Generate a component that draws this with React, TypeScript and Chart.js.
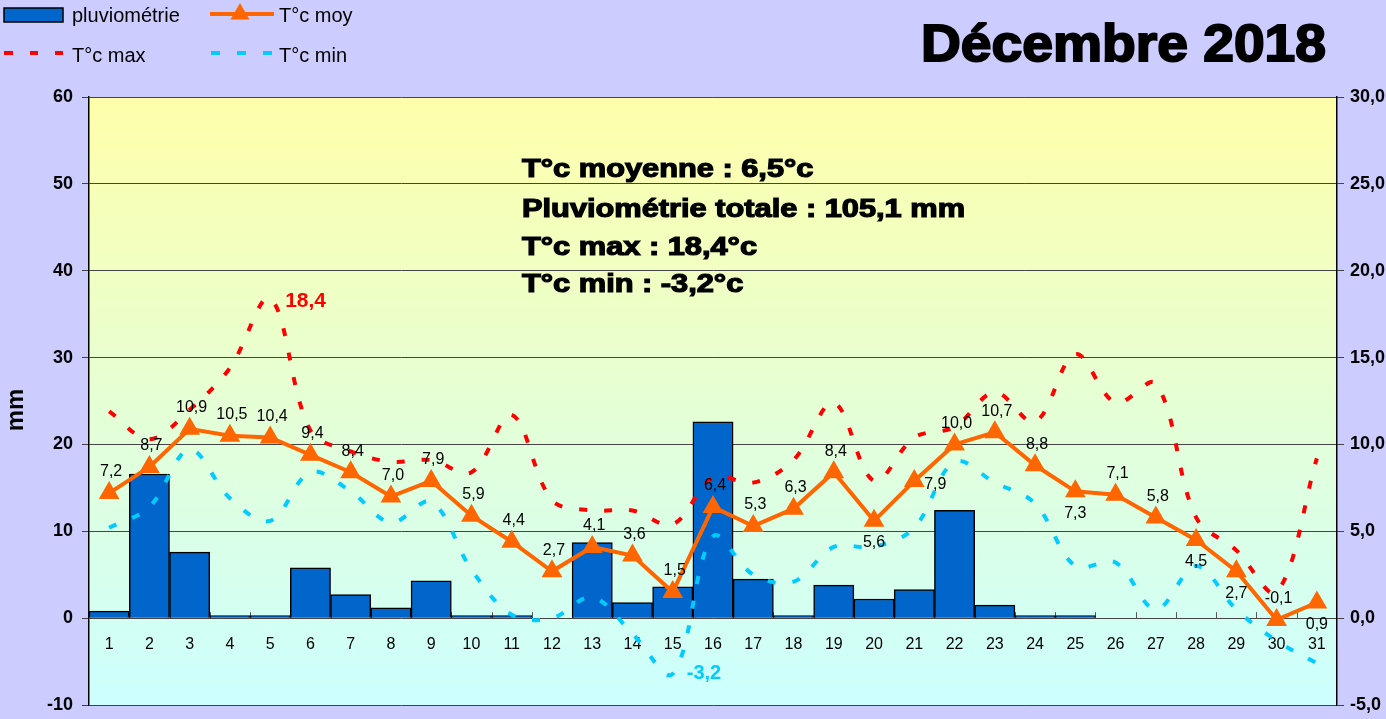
import React, { useEffect, useRef } from 'react';
import { Chart, registerables } from 'chart.js';

Chart.register(...registerables);

const days = ['1', '2', '3', '4', '5', '6', '7', '8', '9', '10', '11', '12', '13', '14', '15', '16', '17', '18', '19', '20', '21', '22', '23', '24', '25', '26', '27', '28', '29', '30', '31'];

const rainfall = [0.8, 16.6, 7.6, 0.3, 0.3, 5.8, 2.7, 1.2, 4.3, 0.3, 0.3, 0, 8.7, 1.8, 3.6, 22.6, 4.5, 0.3, 3.8, 2.2, 3.3, 12.4, 1.5, 0.3, 0.3, 0, 0, 0, 0, 0, 0];

const tMoy = [7.2, 8.7, 10.9, 10.5, 10.4, 9.4, 8.4, 7.0, 7.9, 5.9, 4.4, 2.7, 4.1, 3.6, 1.5, 6.4, 5.3, 6.3, 8.4, 5.6, 7.9, 10.0, 10.7, 8.8, 7.3, 7.1, 5.8, 4.5, 2.7, -0.1, 0.9];

const tMax = [11.9, 10.3, 12.0, 14.4, 18.4, 10.8, 9.6, 9.0, 9.1, 8.4, 11.7, 6.8, 6.2, 6.2, 5.4, 8.1, 7.8, 9.1, 12.4, 7.9, 10.4, 11.0, 13.0, 11.3, 15.2, 12.4, 13.5, 5.8, 3.9, 1.5, 9.2];

const tMin = [5.2, 6.4, 9.7, 6.9, 5.6, 8.4, 7.3, 5.5, 6.7, 2.8, 0.2, 0.0, 1.2, -0.9, -3.2, 4.7, 2.5, 2.1, 4.1, 4.1, 5.2, 9.0, 7.8, 6.6, 3.0, 3.2, 0.5, 3.0, 0.5, -1.3, -2.6];

// label placement of the mean temperature values: a = above, b = below, r = right
const tMoyLabelPlace = ['a', 'a', 'a', 'a', 'a', 'a', 'a', 'a', 'a', 'a', 'a', 'a', 'a', 'a', 'a', 'a', 'a', 'a', 'a', 'b', 'r', 'a', 'a', 'a', 'b', 'a', 'a', 'b', 'b', 'a', 'b'];

const mmTicks = { min: -10, max: 60, step: 10 };
const tempTicks = { min: -5, max: 30, step: 5 };

const chartTitle = 'Décembre 2018';
const statLines = [
  'T°c moyenne : 6,5°c',
  'Pluviométrie totale : 105,1 mm',
  'T°c max : 18,4°c',
  'T°c min : -3,2°c',
];
const legendNames = ['pluviométrie', 'T°c moy', 'T°c max', 'T°c min'];

const FONT = '"Liberation Sans", Arial, sans-serif';
const BLUE = '#0066CC';
const ORANGE = '#FF6600';
const RED = '#FF0000';
const CYAN = '#00CCFF';

const fmt = (v: number) => v.toFixed(1).replace('.', ',');

function drawTriangle(ctx: CanvasRenderingContext2D, x: number, y: number, r: number) {
  ctx.beginPath();
  ctx.moveTo(x, y - r);
  ctx.lineTo(x + r * 0.866, y + r * 0.5);
  ctx.lineTo(x - r * 0.866, y + r * 0.5);
  ctx.closePath();
  ctx.fill();
}

const decorPlugin = {
  id: 'decor',
  beforeDraw(chart: any) {
    const { ctx, chartArea: a } = chart;
    ctx.save();
    const g = ctx.createLinearGradient(0, a.top, 0, a.bottom);
    g.addColorStop(0, '#FFFFAA');
    g.addColorStop(1, '#CCFFFF');
    ctx.fillStyle = g;
    ctx.fillRect(a.left, a.top, a.right - a.left, a.bottom - a.top);
    ctx.restore();
  },
  beforeDatasetsDraw(chart: any) {
    const { ctx, scales } = chart;
    const x = scales.x;
    const y0 = scales.y.getPixelForValue(0);
    ctx.save();
    ctx.strokeStyle = '#555';
    ctx.lineWidth = 1;
    const n = days.length;
    const w = (x.right - x.left) / n;
    for (let i = 1; i < n; i++) {
      const px = Math.round(x.left + i * w) + 0.5;
      ctx.beginPath();
      ctx.moveTo(px, y0 - 6);
      ctx.lineTo(px, y0);
      ctx.stroke();
    }
    ctx.restore();
  },
  afterDatasetsDraw(chart: any) {
    const { ctx } = chart;
    ctx.save();
    // mean temperature labels
    const meta = chart.getDatasetMeta(0);
    ctx.font = `16px ${FONT}`;
    ctx.fillStyle = '#000';
    ctx.textAlign = 'center';
    ctx.textBaseline = 'middle';
    meta.data.forEach((pt: any, i: number) => {
      const place = tMoyLabelPlace[i];
      let dx = 2;
      let dy = -21;
      if (place === 'b') { dx = 0; dy = 22; }
      if (place === 'r') { dx = 21; dy = 4; }
      ctx.fillText(fmt(tMoy[i]), pt.x + dx, pt.y + dy);
    });
    // extreme labels
    const maxIdx = tMax.indexOf(Math.max(...tMax));
    const minIdx = tMin.indexOf(Math.min(...tMin));
    const pMax = chart.getDatasetMeta(1).data[maxIdx];
    const pMin = chart.getDatasetMeta(2).data[minIdx];
    ctx.textAlign = 'left';
    ctx.font = `bold 21px ${FONT}`;
    ctx.fillStyle = RED;
    ctx.fillText(fmt(tMax[maxIdx]), pMax.x + 15, pMax.y + 3);
    ctx.font = `bold 20px ${FONT}`;
    ctx.fillStyle = CYAN;
    ctx.fillText(fmt(tMin[minIdx]), pMin.x + 14, pMin.y);
    ctx.restore();
  },
  afterDraw(chart: any) {
    const { ctx } = chart;
    ctx.save();
    // axis title
    ctx.save();
    ctx.translate(16, 410);
    ctx.rotate(-Math.PI / 2);
    ctx.font = `bold 24px ${FONT}`;
    ctx.fillStyle = '#000';
    ctx.textAlign = 'center';
    ctx.textBaseline = 'middle';
    ctx.fillText('mm', 0, 0);
    ctx.restore();

    // title
    ctx.font = `bold 52px ${FONT}`;
    ctx.fillStyle = '#000';
    ctx.strokeStyle = '#000';
    ctx.textAlign = 'left';
    ctx.textBaseline = 'alphabetic';
    const tw = ctx.measureText(chartTitle).width;
    ctx.save();
    ctx.translate(921, 61);
    ctx.scale(405 / tw, 1);
    ctx.lineWidth = 2;
    ctx.fillText(chartTitle, 0, 0);
    ctx.strokeText(chartTitle, 0, 0);
    ctx.restore();

    // stats text
    ctx.font = `bold 25px ${FONT}`;
    const sw = ctx.measureText(statLines[1]).width;
    const sScale = 443 / sw;
    const baselines = [177, 217, 255, 292];
    statLines.forEach((t, i) => {
      ctx.save();
      ctx.translate(522, baselines[i]);
      ctx.scale(sScale, 1);
      ctx.lineWidth = 1.2;
      ctx.fillText(t, 0, 0);
      ctx.strokeText(t, 0, 0);
      ctx.restore();
    });

    // legend
    ctx.font = `20px ${FONT}`;
    ctx.fillStyle = BLUE;
    ctx.fillRect(4, 8, 59, 14);
    ctx.strokeStyle = '#000';
    ctx.lineWidth = 1.5;
    ctx.strokeRect(4, 8, 59, 14);
    ctx.fillStyle = '#000';
    ctx.fillText(legendNames[0], 72, 22);

    ctx.strokeStyle = ORANGE;
    ctx.lineWidth = 4;
    ctx.beginPath();
    ctx.moveTo(210, 14);
    ctx.lineTo(274, 14);
    ctx.stroke();
    ctx.fillStyle = ORANGE;
    drawTriangle(ctx, 240, 14, 11);
    ctx.fillStyle = '#000';
    ctx.fillText(legendNames[1], 279, 22);

    ctx.lineWidth = 4;
    ctx.strokeStyle = RED;
    [[4, 13], [30, 38], [55, 63]].forEach(([a, b]) => {
      ctx.beginPath(); ctx.moveTo(a, 53); ctx.lineTo(b, 53); ctx.stroke();
    });
    ctx.fillText(legendNames[2], 72, 62);
    ctx.strokeStyle = CYAN;
    [[211, 220], [237, 246], [263, 272]].forEach(([a, b]) => {
      ctx.beginPath(); ctx.moveTo(a, 53); ctx.lineTo(b, 53); ctx.stroke();
    });
    ctx.fillText(legendNames[3], 279, 62);
    ctx.restore();
  },
};

export default function App() {
  const ref = useRef<HTMLCanvasElement>(null);

  useEffect(() => {
    if (!ref.current) return;
    const fitVertical = (w: number) => (s: any) => {
      s.width = w;
      s.paddingTop = 0;
      s.paddingBottom = 0;
    };
    const chart = new Chart(ref.current, {
      type: 'bar',
      data: {
        labels: days,
        datasets: [
          {
            type: 'line',
            label: legendNames[1],
            data: tMoy,
            yAxisID: 'y1',
            borderColor: ORANGE,
            backgroundColor: ORANGE,
            borderWidth: 4,
            pointStyle: 'triangle',
            pointRadius: 12,
            pointBorderWidth: 0,
            pointBackgroundColor: ORANGE,
            tension: 0,
            order: 0,
          } as any,
          {
            type: 'line',
            label: legendNames[2],
            data: tMax,
            yAxisID: 'y1',
            borderColor: RED,
            borderWidth: 4,
            borderDash: [8, 17],
            pointRadius: 0,
            tension: 0.35,
            order: 1,
          } as any,
          {
            type: 'line',
            label: legendNames[3],
            data: tMin,
            yAxisID: 'y1',
            borderColor: CYAN,
            borderWidth: 4,
            borderDash: [8, 17],
            pointRadius: 0,
            tension: 0.35,
            order: 2,
          } as any,
          {
            type: 'bar',
            label: legendNames[0],
            data: rainfall,
            yAxisID: 'y',
            backgroundColor: BLUE,
            borderColor: '#000',
            borderWidth: 1.5,
            barPercentage: 1,
            categoryPercentage: 1,
            order: 3,
          } as any,
        ],
      },
      options: {
        responsive: false,
        animation: false,
        devicePixelRatio: 1,
        layout: { padding: { top: 97, bottom: 14, left: 0, right: 0 } },
        plugins: {
          legend: { display: false },
          tooltip: { enabled: false },
          title: { display: false },
        },
        scales: {
          x: {
            type: 'category',
            offset: true,
            position: { y: 0 } as any,
            afterFit: (s: any) => { s.height = 0; s.paddingLeft = 0; s.paddingRight = 0; },
            grid: { display: false },
            border: { display: false },
            ticks: {
              font: { family: FONT, size: 16 },
              color: '#000',
              padding: 9,
              maxRotation: 0,
              autoSkip: false,
            },
          },
          y: {
            position: 'left',
            min: mmTicks.min,
            max: mmTicks.max,
            afterFit: fitVertical(89),
            grid: {
              color: '#444',
              lineWidth: 1,
              tickLength: 7,
              drawTicks: true,
            },
            border: { display: true, color: '#000', width: 1.5 },
            ticks: {
              stepSize: mmTicks.step,
              font: { family: FONT, size: 18, weight: 'bold' },
              color: '#000',
              padding: 9,
            },
          },
          y1: {
            position: 'right',
            min: tempTicks.min,
            max: tempTicks.max,
            afterFit: fitVertical(49),
            grid: { drawOnChartArea: false, color: '#444', tickLength: 7 },
            border: { display: true, color: '#000', width: 1.5 },
            ticks: {
              stepSize: tempTicks.step,
              font: { family: FONT, size: 18, weight: 'bold' },
              color: '#000',
              padding: 6,
              callback: (v: any) => fmt(Number(v)),
            },
          },
        },
      },
      plugins: [decorPlugin],
    } as any);
    return () => chart.destroy();
  }, []);

  return (
    <div style={{ position: 'fixed', left: 0, top: 0, width: 1386, height: 719, background: '#CCCCFF' }}>
      <canvas ref={ref} width={1386} height={719} style={{ display: 'block', width: 1386, height: 719 }} />
    </div>
  );
}
